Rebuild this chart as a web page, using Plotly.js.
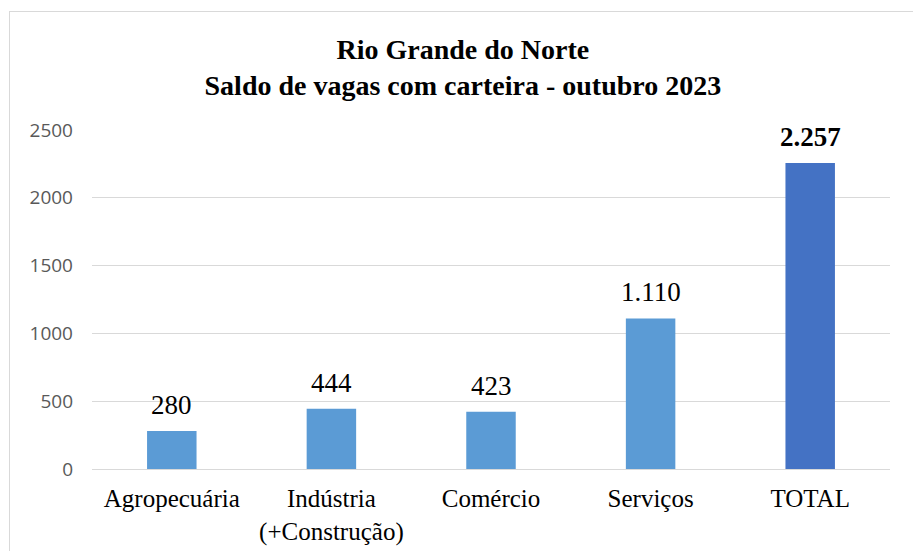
<!DOCTYPE html>
<html>
<head>
<meta charset="utf-8">
<script src="https://cdn.plot.ly/plotly-3.0.1.min.js"></script>
<style>
  html, body { margin: 0; padding: 0; background: #ffffff; }
  #chart { width: 913px; height: 551px; position: absolute; left: 0; top: 0; }
  #frame { position: absolute; left: 9px; top: 11px; width: 920px; height: 560px;
           border: 1.5px solid #d9d9d9; pointer-events: none; }
</style>
</head>
<body>
<div id="chart"></div>
<div id="frame"></div>
<script>
const categories = ["Agropecuária", "Indústria<br>(+Construção)", "Comércio", "Serviços", "TOTAL"];
const values = [280, 444, 423, 1110, 2257];
const valueLabels = ["280", "444", "423", "1.110", "<b>2.257</b>"];
const barColors = ["#5B9BD5", "#5B9BD5", "#5B9BD5", "#5B9BD5", "#4472C4"];
const yTicks = [0, 500, 1000, 1500, 2000, 2500];

const serif = "Liberation Serif, Times New Roman, serif";

const trace = {
  type: "bar",
  x: categories,
  y: values,
  marker: { color: barColors },
  hoverinfo: "none"
};

const labelAnnotations = categories.map((c, i) => ({
  x: c,
  y: values[i],
  xref: "x",
  yref: "y",
  text: valueLabels[i],
  showarrow: false,
  xanchor: "center",
  yanchor: "bottom",
  yshift: 9,
  font: { family: serif, size: 27, color: "#000000" }
}));

const layout = {
  width: 913,
  height: 551,
  margin: { l: 92, r: 23, t: 130, b: 82 },
  paper_bgcolor: "#ffffff",
  plot_bgcolor: "#ffffff",
  bargap: 0.69,
  showlegend: false,
  annotations: labelAnnotations,
  title: {
    text: "<b>Rio Grande do Norte</b><br><b>Saldo de vagas com carteira - outubro 2023</b>",
    font: { family: serif, size: 28, color: "#000000" },
    x: 0.507, xref: "container", xanchor: "center",
    y: 0.893, yref: "container", yanchor: "bottom"
  },
  xaxis: {
    type: "category",
    showgrid: false,
    zeroline: false,
    showline: false,
    ticks: "",
    ticklabelstandoff: 12,
    tickfont: { family: serif, size: 25, color: "#000000" }
  },
  yaxis: {
    range: [0, 2500],
    tickvals: yTicks,
    ticktext: yTicks.map(String),
    showgrid: true,
    gridcolor: "#d9d9d9",
    gridwidth: 1,
    zeroline: true,
    zerolinecolor: "#d9d9d9",
    zerolinewidth: 1,
    showline: false,
    ticks: "",
    ticklabelstandoff: 18,
    tickfont: { family: "Open Sans, Liberation Sans, sans-serif", size: 19, color: "#595959" }
  }
};

Plotly.newPlot("chart", [trace], layout, { displayModeBar: false, staticPlot: true });
</script>
</body>
</html>
